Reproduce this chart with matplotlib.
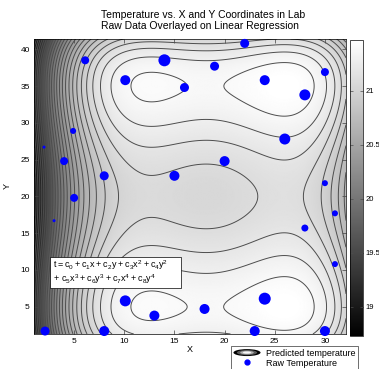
import numpy as np
import matplotlib
matplotlib.use("Agg")
import matplotlib.pyplot as plt
from matplotlib.patches import Ellipse, Rectangle
from matplotlib.lines import Line2D
from matplotlib.legend_handler import HandlerBase

plt.rcParams['font.family'] = ['Liberation Sans', 'DejaVu Sans']
plt.rcParams['mathtext.default'] = 'regular'

# raw temperature sensor positions (marker diameter in px)
raw_x = [6.1, 14.0, 22.0, 19.0, 10.1, 16.0, 24.0, 30.0, 28.0, 4.9,
         2.0, 26.0, 4.0, 20.0, 8.0, 15.0, 30.0, 5.0, 31.0, 3.0,
         28.0, 31.0, 10.1, 24.0, 18.0, 13.0, 2.1, 8.0, 23.0, 30.0]
raw_y = [38.5, 38.5, 40.8, 37.7, 35.8, 34.8, 35.8, 36.9, 33.8, 28.9,
         26.7, 27.8, 24.8, 24.8, 22.8, 22.8, 21.8, 19.8, 17.7, 16.7,
         15.7, 10.8, 5.8, 6.1, 4.7, 3.8, 1.7, 1.7, 1.7, 1.7]
raw_size = [8, 12, 9, 9, 10, 9, 10, 8, 11, 6,
            3, 11, 8, 10, 9, 10, 6, 8, 6, 3,
            7, 6, 11, 12, 10, 10, 9, 10, 10, 10]

# estimated temperature profile of the regression along x and along y
prof_x = [1, 2, 3, 4, 6, 8, 10, 12, 15, 18, 22, 25, 28, 30, 32]
prof_fx = [0.0, 0.56, 1.0, 1.37, 1.88, 2.14, 2.24, 2.28, 2.30, 2.32, 2.35, 2.365, 2.31, 2.2, 1.95]
prof_y = [1.3, 5, 10, 15, 20, 25, 30, 35, 38, 41.4]
prof_gy = [0.268, 0.375, 0.267, 0.099, 0.025, 0.099, 0.267, 0.375, 0.307, 0.0]
t_min, t_max = 18.73, 21.47
cbar_ticks = [19, 19.5, 20, 20.5, 21]

coef_x = np.polyfit(prof_x, prof_fx, 4)
coef_y = np.polyfit(prof_y, prof_gy, 4)
xg = np.linspace(1, 32.1, 320)
yg = np.linspace(1.3, 41.4, 320)
X, Y = np.meshgrid(xg, yg)
T = t_min + np.polyval(coef_x, X) + np.polyval(coef_y, Y)

fig = plt.figure(figsize=(3.79, 3.69), dpi=100)
ax = fig.add_axes([0.0897, 0.0949, 0.8232, 0.7995])

im = ax.imshow(T, extent=[xg[0], xg[-1], yg[0], yg[-1]], origin='lower',
               cmap='gray', vmin=t_min, vmax=t_max, aspect='auto',
               interpolation='bilinear')
ax.contour(X, Y, T, levels=np.arange(18.8, 21.5, 0.1), colors='0.3',
           linewidths=0.7)
ax.scatter(raw_x, raw_y, s=[(d * 0.72) ** 2 for d in raw_size], color='blue',
           edgecolors='none', zorder=5, clip_on=False)

ax.set_xlim(xg[0], xg[-1])
ax.set_ylim(yg[0], yg[-1])
ax.set_xticks([5, 10, 15, 20, 25, 30])
ax.set_yticks([5, 10, 15, 20, 25, 30, 35, 40])
ax.tick_params(direction='in', top=True, right=True, length=3, width=0.5,
               labelsize=6, pad=3, colors='0.25', labelcolor='black')
for s in ax.spines.values():
    s.set_linewidth(0.5)
ax.set_xlabel('X', fontsize=6.5, labelpad=0)
ax.set_ylabel('Y', fontsize=6.5, labelpad=6)

# equation box
ax.add_patch(Rectangle((0.051, 0.156), 0.42, 0.105, transform=ax.transAxes,
                       facecolor='white', edgecolor='black', linewidth=0.5,
                       zorder=6))
ax.text(0.06, 0.232, r'$t = c_0 + c_1x + c_2y + c_3x^2 + c_4y^2$',
        transform=ax.transAxes, fontsize=6.5, va='center', zorder=7)
ax.text(0.06, 0.186, r'$+ \ c_5x^3 + c_6y^3 + c_7x^4 + c_8y^4$',
        transform=ax.transAxes, fontsize=6.5, va='center', zorder=7)

fig.text(0.537, 0.972, 'Temperature vs. X and Y Coordinates in Lab\nRaw Data Overlayed on Linear Regression',
         ha='center', va='top', multialignment='left', fontsize=7.5,
         linespacing=1.1)

# colorbar
cax = fig.add_axes([0.9235, 0.0894, 0.0343, 0.8022])
cb = fig.colorbar(im, cax=cax, ticks=cbar_ticks)
cb.ax.set_yticklabels(['19', '19.5', '20', '20.5', '21'])
cb.ax.tick_params(direction='in', left=True, right=True, length=2, width=0.5,
                  labelsize=5.5, pad=1.5, colors='0.3', labelcolor='black')
cb.outline.set_linewidth(0.5)


class HandlerRings(HandlerBase):
    def create_artists(self, legend, orig_handle, xdescent, ydescent, width,
                       height, fontsize, trans):
        cx = width / 2 - xdescent
        cy = height / 2 - ydescent
        arts = []
        for sc, c in zip([1.0, 0.75, 0.5, 0.3], ['black', '0.35', '0.7', '0.97']):
            arts.append(Ellipse((cx, cy), width * sc, height * 1.1 * sc,
                                facecolor=c, edgecolor='none', transform=trans))
        return arts


rings = Ellipse((0, 0), 1, 1)
dot = Line2D([], [], marker='o', color='blue', linestyle='none', markersize=3.5)
leg = fig.legend([rings, dot], ['Predicted temperature', 'Raw Temperature'],
                 handler_map={Ellipse: HandlerRings()}, loc='upper left',
                 bbox_to_anchor=(0.61, 0.061), fontsize=6.5, frameon=True,
                 fancybox=False, edgecolor='black', handlelength=3.0,
                 handletextpad=0.6, borderpad=0.25, labelspacing=0.1,
                 borderaxespad=0)
leg.get_frame().set_linewidth(0.5)

fig.savefig('out.png', dpi=100)
